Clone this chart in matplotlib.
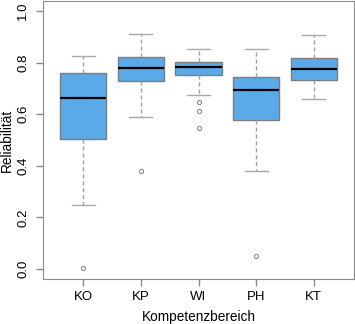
import matplotlib
matplotlib.use("Agg")
import matplotlib.pyplot as plt

plt.rcParams['font.family'] = ['Liberation Sans', 'DejaVu Sans']

groups = ["KO", "KP", "WI", "PH", "KT"]
whislo = [0.249, 0.589, 0.673, 0.380, 0.658]
q1 = [0.504, 0.727, 0.751, 0.578, 0.731]
med = [0.662, 0.778, 0.782, 0.693, 0.774]
q3 = [0.760, 0.820, 0.804, 0.743, 0.817]
whishi = [0.826, 0.912, 0.853, 0.853, 0.907]
fliers = [[0.003], [0.380], [0.646, 0.614, 0.547], [0.050], []]

stats = []
for i, g in enumerate(groups):
    stats.append(dict(label=g, whislo=whislo[i], q1=q1[i], med=med[i],
                      q3=q3[i], whishi=whishi[i], fliers=fliers[i]))

fig = plt.figure(figsize=(3.55, 3.24), dpi=100)
ax = fig.add_axes([43 / 355, 1 - 279.3 / 324, 311 / 355, 278.6 / 324])

grey = "#8a8a8a"
ax.bxp(stats, positions=range(1, 6), widths=0.8, patch_artist=True,
       boxprops=dict(facecolor="#5aaae9", edgecolor="#7d7d7d", linewidth=1),
       medianprops=dict(color="black", linewidth=1.6),
       whiskerprops=dict(color="#a0a0a0", linestyle=(0, (3, 2)), linewidth=1),
       capprops=dict(color="#a8a8a8", linewidth=1),
       capwidths=0.4,
       flierprops=dict(marker="o", markersize=3, markerfacecolor="none",
                       markeredgecolor="#808080", markeredgewidth=0.7))

ax.set_xlim(0.3, 5.7)
ax.set_ylim(-0.04, 1.04)
ax.set_yticks([0.0, 0.2, 0.4, 0.6, 0.8, 1.0])
ax.set_yticklabels(["0.0", "0.2", "0.4", "0.6", "0.8", "1.0"], rotation=90, va="center")
for s in ax.spines.values():
    s.set_color(grey)
ax.tick_params(colors=grey, labelcolor="black", labelsize=9.5, length=5, width=1)
ax.tick_params(axis="y", pad=5)
ax.set_xlabel("Kompetenzbereich", fontsize=9.8, labelpad=5)
ax.set_ylabel("Reliabilität", fontsize=9.8, labelpad=2)

fig.savefig("out.png", dpi=100)
